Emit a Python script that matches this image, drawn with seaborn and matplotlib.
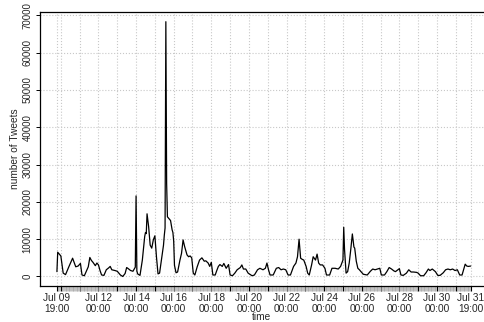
import pandas as pd
import matplotlib.pyplot as plt
import matplotlib.dates as mdates
import seaborn as sns

start = pd.Timestamp("2014-07-09 19:00")
end = pd.Timestamp("2014-07-31 19:00")

# hours since start, and tweets per hour
hours = [0, 1, 3, 5, 8, 11, 15, 19, 20, 24, 27, 30, 32, 35, 40, 42, 44, 46, 49, 51,
         53, 55, 57, 60, 63, 66, 68, 70, 74, 77, 81, 84, 87, 89, 91, 94, 97, 100, 101, 102,
         103, 106, 109, 112, 113, 114, 115, 117, 119, 121, 123, 125, 127, 129, 131, 134, 136, 137, 138, 139,
         140, 141, 143, 145, 147, 148, 149, 150, 152, 154, 157, 159, 161, 163, 166, 168, 170, 172, 174, 176,
         179, 182, 185, 188, 190, 193, 195, 197, 199, 202, 204, 206, 208, 211, 213, 216, 219, 221, 224, 227,
         230, 234, 236, 238, 241, 244, 249, 252, 256, 259, 263, 266, 268, 270, 272, 276, 280, 283, 286, 289,
         292, 295, 298, 302, 305, 307, 309, 311, 313, 315, 318, 320, 322, 325, 327, 330, 332, 334, 336, 339,
         342, 344, 348, 351, 355, 359, 362, 365, 366, 367, 369, 371, 373, 375, 377, 379, 380, 382, 384, 386,
         388, 391, 396, 400, 403, 406, 409, 412, 414, 418, 421, 424, 427, 430, 432, 435, 437, 439, 442, 446,
         449, 452, 455, 459, 461, 464, 468, 471, 474, 476, 479, 483, 486, 489, 493, 496, 499, 502, 505, 508,
         511, 514, 517, 519, 521, 523, 525, 528]
tweets = [1300, 6500, 6000, 5500, 900, 500, 2500, 4400, 4900, 2600, 2800, 3500, 400, 200, 2600, 5100, 4300, 3800, 2900, 3600,
          3100, 1600, 400, 300, 1800, 2300, 2700, 1800, 1600, 1400, 400, 0, 800, 2400, 2100, 1600, 1400, 2500, 21600, 1500,
          700, 300, 4400, 10700, 11800, 11500, 16800, 13400, 8400, 7600, 9800, 10900, 5300, 700, 900, 5300, 8400, 11000, 13000, 68300,
          25000, 16000, 15500, 15000, 12500, 11800, 9500, 3000, 1000, 1200, 4400, 6200, 9800, 8000, 5800, 5300, 5500, 5000, 900, 400,
          2600, 4400, 5000, 4100, 4200, 3600, 2700, 3800, 400, 400, 1600, 2700, 3200, 2700, 3500, 2200, 3200, 400, 200, 900,
          1800, 2400, 3100, 2000, 2000, 900, 200, 400, 1800, 2200, 1800, 2200, 3600, 1800, 400, 400, 2200, 2400, 1800, 2000,
          1800, 400, 400, 2700, 3600, 5300, 10000, 4900, 4600, 4400, 2700, 900, 400, 3100, 5300, 4400, 6000, 3600, 3100, 3100,
          2200, 400, 400, 2200, 2200, 2000, 2700, 4400, 13200, 7300, 900, 1300, 3600, 7300, 11400, 7900, 7600, 4100, 2200, 1800,
          1300, 600, 400, 1400, 2000, 1800, 2000, 2200, 400, 400, 1300, 2400, 2000, 1500, 1300, 1800, 2100, 400, 300, 900,
          1800, 1200, 1200, 1100, 900, 200, 200, 1000, 2000, 1600, 2000, 1300, 300, 300, 1000, 1800, 2000, 1800, 2000, 1600,
          1800, 400, 400, 1800, 3300, 2800, 2700, 2800]

y_ticks = [0, 10000, 20000, 30000, 40000, 50000, 60000, 70000]

df = pd.DataFrame({"time": start + pd.to_timedelta(hours, unit="h"), "tweets": tweets})

sns.set_style("white")
plt.rcParams["font.family"] = ["Liberation Sans", "DejaVu Sans"]

fig = plt.figure(figsize=(4.84, 3.22), dpi=100)
ax = fig.add_axes([40 / 484, 1 - 286 / 322, 444 / 484, 274 / 322])

sns.lineplot(data=df, x="time", y="tweets", color="black", linewidth=0.9, ax=ax, zorder=3)

# ticks: one per day plus start and end, labels every second day
days = list(pd.date_range("2014-07-10", "2014-07-31", freq="D"))
major = [start] + days + [end]
labels = []
for d in major:
    if d == start or d == end:
        labels.append(d.strftime("%b %d\n%H:%M"))
    elif d.day % 2 == 0 and d.day >= 12:
        labels.append(d.strftime("%b %d\n%H:%M"))
    else:
        labels.append("")
ax.set_xticks(mdates.date2num(major))
ax.set_xticklabels(labels, linespacing=1.05)
ax.set_xticks(mdates.date2num(pd.date_range(start, end, freq="h")), minor=True)

ax.set_xlim(mdates.date2num(start - pd.Timedelta(hours=21.6)),
            mdates.date2num(start + pd.Timedelta(hours=545)))
ax.set_ylim(-2550, 70900)
ax.set_yticks(y_ticks)
ax.set_yticklabels([str(v) for v in y_ticks], rotation=90, va="center")

ax.grid(True, which="major", linestyle=":", color="#c8c8c8", linewidth=0.8)
ax.tick_params(axis="x", which="major", length=3.8, width=0.8, color="black",
               labelsize=7.3, pad=1.5, bottom=True)
ax.tick_params(axis="x", which="minor", length=3.8, width=0.5, color="#a8a8a8", bottom=True)
ax.tick_params(axis="y", length=3, width=0.7, color="black", labelsize=7, pad=2.5, left=True)

for side in ["left", "bottom", "top"]:
    ax.spines[side].set_visible(True)
    ax.spines[side].set_color("black")
    ax.spines[side].set_linewidth(0.9)
ax.spines["right"].set_visible(False)

ax.set_xlabel("time", fontsize=7.3, labelpad=-1)
ax.set_ylabel("number of Tweets", fontsize=7.3, labelpad=2)

fig.savefig("out.png", dpi=100)
